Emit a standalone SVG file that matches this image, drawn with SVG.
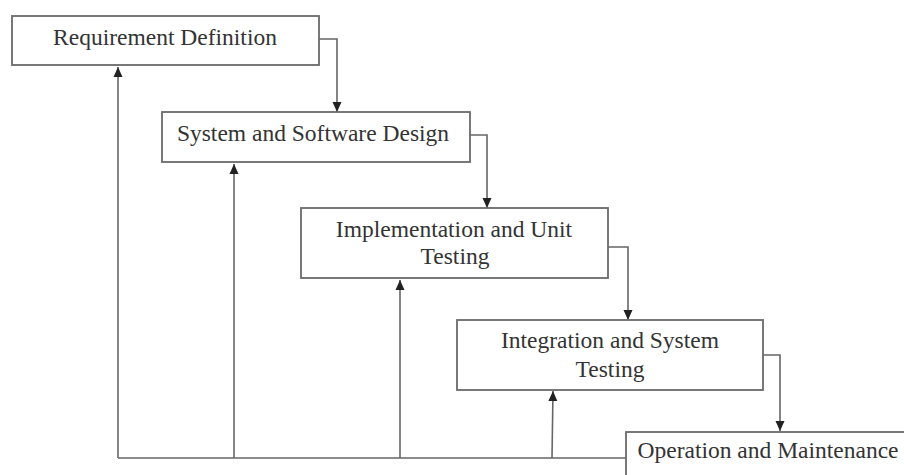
<svg xmlns="http://www.w3.org/2000/svg" width="904" height="475" viewBox="0 0 904 475">
<style>
.box{fill:#fff;stroke:#6a6a6a;stroke-width:1.8}
.lbl{font-family:"Liberation Serif","Times New Roman",serif;font-size:23.5px;fill:#333;text-anchor:middle}
.ln{fill:none;stroke:#666;stroke-width:1.6}
</style>
<defs>
<marker id="ah" markerUnits="userSpaceOnUse" markerWidth="10" markerHeight="10" viewBox="0 0 10 10" refX="10" refY="5" orient="auto">
<path d="M0,0.5 L10,5 L0,9.5 Z" fill="#222"/>
</marker>
</defs>
<rect width="904" height="475" fill="#fff"/>
<g id="connectors">
<polyline class="ln" points="319,39 337,39 337,112" marker-end="url(#ah)"/>
<polyline class="ln" points="470,135 487,135 487,208" marker-end="url(#ah)"/>
<polyline class="ln" points="608,247 628,247 628,320" marker-end="url(#ah)"/>
<polyline class="ln" points="763,355 780,355 780,431" marker-end="url(#ah)"/>
<polyline class="ln" points="626,458 118,458"/>
<line class="ln" x1="118" y1="458" x2="118" y2="67" marker-end="url(#ah)"/>
<line class="ln" x1="234" y1="458" x2="234" y2="164" marker-end="url(#ah)"/>
<line class="ln" x1="400" y1="458" x2="400" y2="280" marker-end="url(#ah)"/>
<line class="ln" x1="552" y1="458" x2="553" y2="391" marker-end="url(#ah)"/>
</g>
<g id="n1">
<rect class="box" x="12" y="16" width="307" height="49"/>
<text class="lbl" x="165" y="45">Requirement Definition</text>
</g>
<g id="n2">
<rect class="box" x="162" y="112" width="308" height="50"/>
<text class="lbl" x="313" y="141">System and Software Design</text>
</g>
<g id="n3">
<rect class="box" x="301" y="208" width="307" height="70"/>
<text class="lbl" x="454" y="237">Implementation and Unit</text>
<text class="lbl" x="455" y="264">Testing</text>
</g>
<g id="n4">
<rect class="box" x="457" y="320" width="306" height="70"/>
<text class="lbl" x="610" y="348">Integration and System</text>
<text class="lbl" x="610" y="377">Testing</text>
</g>
<g id="n5">
<rect class="box" x="626" y="432" width="300" height="60"/>
<text class="lbl" x="768" y="458">Operation and Maintenance</text>
</g>
</svg>
